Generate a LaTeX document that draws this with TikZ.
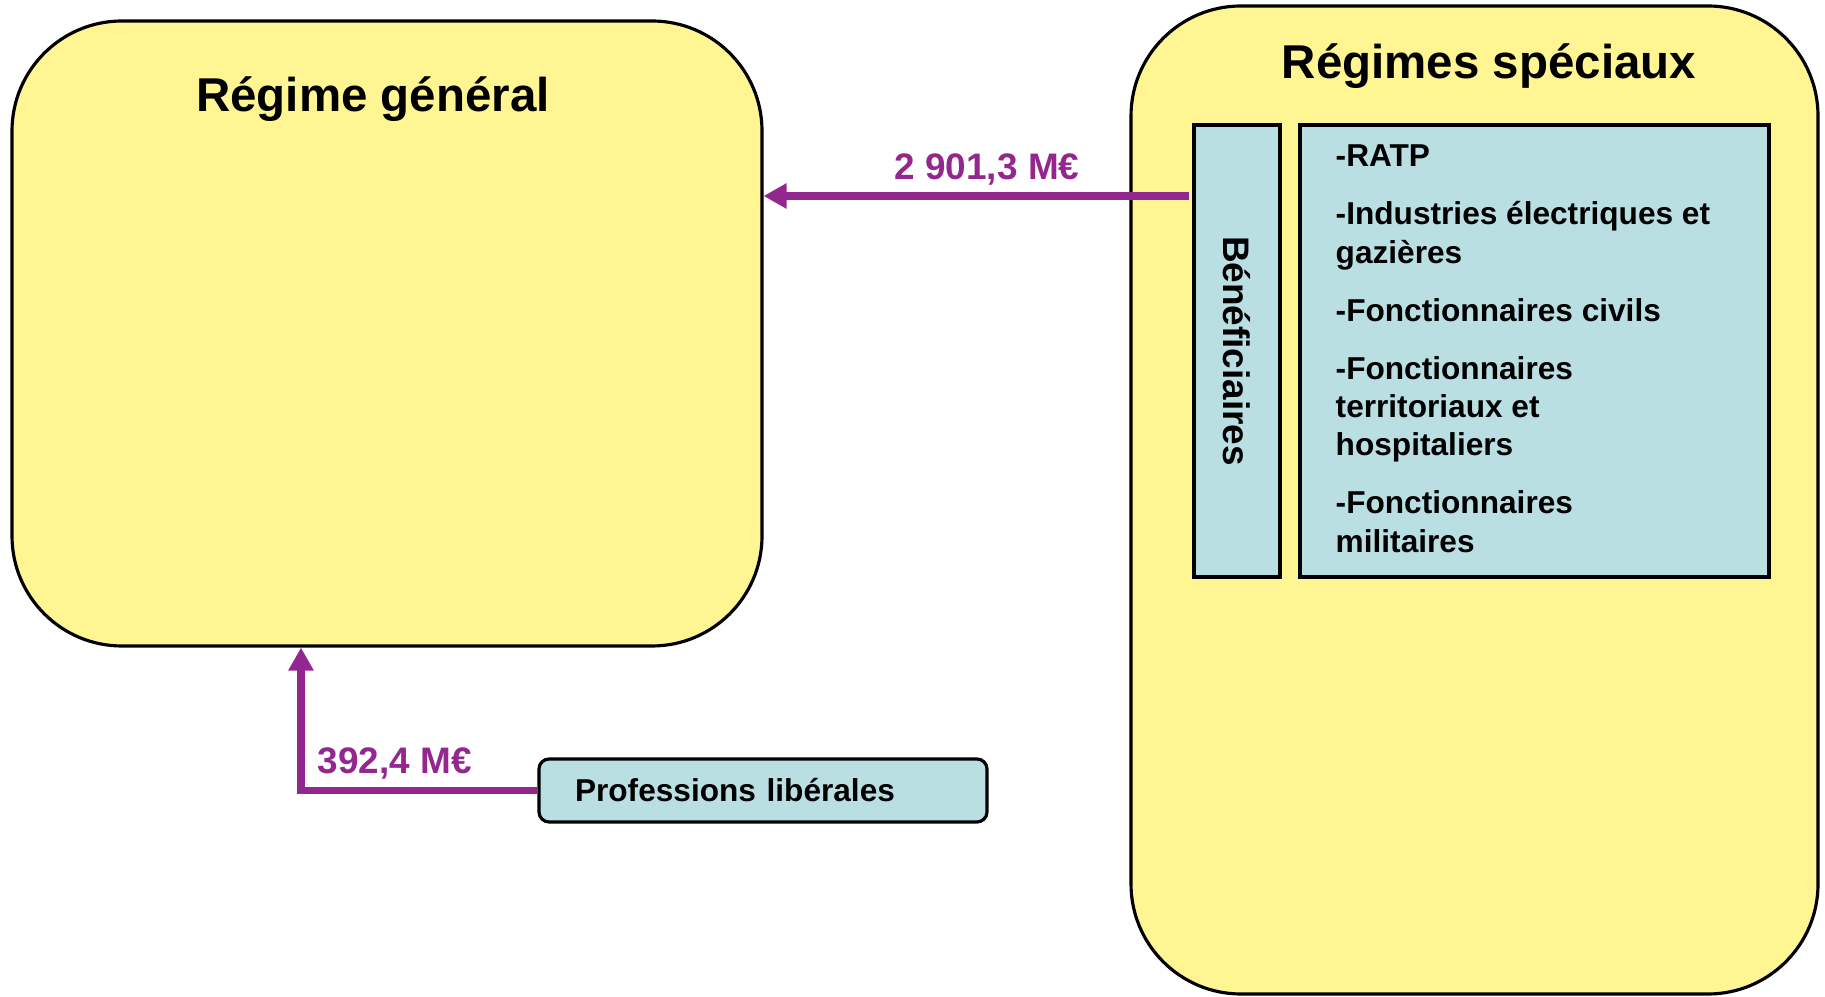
\documentclass[tikz,border=0pt]{standalone}
\usepackage{fontspec}
\setmainfont{Liberation Sans}
\usetikzlibrary{arrows.meta}
\definecolor{jaune}{HTML}{FFF593}
\definecolor{bleu}{HTML}{BADFE3}
\definecolor{violet}{HTML}{93278F}
\begin{document}
\begin{tikzpicture}[font=\bfseries,
		regime/.style={draw,line width=0.9pt,fill=jaune,rounded corners=1.1cm},
		cadre/.style={draw,line width=0.9pt,fill=bleu,inner sep=0pt},
		titre/.style={font=\fontsize{13.5}{16}\selectfont\bfseries},
		montant/.style={text=violet,inner sep=0pt,font=\fontsize{10.5}{12}\selectfont\bfseries},
		flux/.style={draw=violet,line width=2.2pt,-{Triangle[length=2.3mm,width=2.4mm]}}]
		\useasboundingbox (0,0) rectangle (18.25,9.96);
		\node[regime,minimum width=7.5cm,minimum height=6.25cm](rg) at (3.87,6.625){};
		\node[titre,anchor=base](trg) at (3.73,8.84){Régime général};
		\node[regime,minimum width=6.87cm,minimum height=9.88cm](rs) at (14.745,4.96){};
		\node[titre,anchor=base](trs) at (14.89,9.17){Régimes spéciaux};
		\node[cadre,minimum width=0.86cm,minimum height=4.52cm](ben) at (12.37,6.45)
			{\rotatebox{-90}{\fontsize{10.5}{12}\selectfont Bénéficiaires}};
		\node[cadre,minimum width=4.69cm,minimum height=4.52cm](liste) at (15.345,6.45){};
		\node[anchor=north west,inner sep=0pt,align=left,
			font=\fontsize{9}{10.9}\selectfont\bfseries](items) at (13.35,8.515)
			{-RATP\\[5.6pt]
			-Industries électriques et\\gazières\\[5.6pt]
			-Fonctionnaires civils\\[5.6pt]
			-Fonctionnaires\\territoriaux et\\hospitaliers\\[5.6pt]
			-Fonctionnaires\\militaires};
		\node[draw,line width=0.9pt,fill=bleu,rounded corners=0.1cm,
			minimum height=0.63cm,text width=3.76cm,inner xsep=0.36cm,align=left,
			font=\fontsize{9}{11}\selectfont\bfseries](prof) at (7.63,2.055){Professions libérales};
		\coordinate (depart) at ([xshift=-0.03cm]ben.west |- 0,8.00);
		\coordinate (arrivee) at (3.01,0 |- rg.south);
		\draw[flux] (depart) -- (depart -| rg.east);
		\draw[flux] (prof.west) -| (arrivee);
		\node[montant,anchor=base](mtsp) at (9.87,8.16){2 901,3 M€};
		\node[montant,anchor=base west](mtpl) at (3.17,2.23){392,4 M€};
	\end{tikzpicture}
\end{document}
